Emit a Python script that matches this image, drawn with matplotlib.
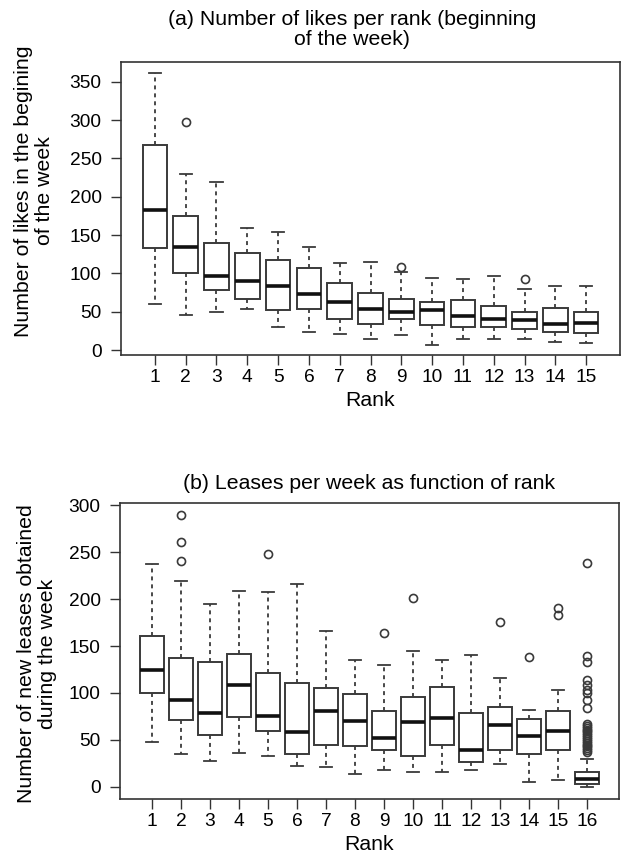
import matplotlib
matplotlib.use("Agg")
import matplotlib.pyplot as plt

plt.rcParams['font.family'] = ['Liberation Sans', 'DejaVu Sans']

# ---- Panel (a): likes per rank ----
likes_ranks = list(range(1, 16))
likes_whislo = [60, 46, 50, 53, 30, 23, 21, 14, 19, 6.5, 15, 15, 15, 10, 9.6]
likes_q1 = [133, 100, 78, 66.5, 52, 53.5, 41, 34, 40, 32, 30, 30, 27, 24, 22.6]
likes_med = [182, 134, 96, 90, 83.5, 73.5, 62, 53.5, 50, 52, 44, 41, 39, 34, 35]
likes_q3 = [267, 175, 139, 127, 117, 106.5, 88, 74, 66.5, 63, 65, 58, 50, 55, 49]
likes_whishi = [362, 229, 219, 159, 154, 134, 113.5, 115, 102, 94, 93, 96, 80, 84, 83]
likes_fliers = {2: [298], 9: [108], 13: [92]}

# ---- Panel (b): leases per week ----
lease_ranks = list(range(1, 17))
lease_whislo = [48, 35, 27, 35.5, 33, 22, 21, 14, 18, 16, 16, 18, 24, 5, 7, 0]
lease_q1 = [100.5, 71, 55, 74.5, 59, 34.5, 45, 43, 39, 33, 45, 26, 39, 35, 39, 3.5]
lease_med = [125, 93, 79, 108, 76, 58, 81, 70, 52.5, 69, 73, 39, 66, 54, 60, 8]
lease_q3 = [160.5, 137, 133, 141.5, 121, 111, 105, 99, 81, 96, 106, 79, 85, 72, 81, 16]
lease_whishi = [237, 219, 195, 209, 208, 216, 166, 135, 130, 145, 135, 141, 116, 82, 103, 30]
lease_fliers = {2: [290, 261, 241], 5: [248], 9: [164], 10: [201], 13: [176],
                14: [138], 15: [191, 183],
                16: [239, 139.5, 133, 113.6, 108, 103.7, 100, 92, 84.5,
                     67, 65, 63, 61, 59, 57, 55, 53, 51, 49, 47, 45, 43, 41, 39, 37]}

title_a = "(a) Number of likes per rank (beginning\nof the week)"
ylabel_a = "Number of likes in the begining\nof the week"
title_b = "(b) Leases per week as function of rank"
ylabel_b = "Number of new leases obtained\nduring the week"
xlabel = "Rank"
yticks_a = [0, 50, 100, 150, 200, 250, 300, 350]
yticks_b = [0, 50, 100, 150, 200, 250, 300]


def make_stats(ranks, lo, q1, med, q3, hi, fl):
    stats = []
    for i, r in enumerate(ranks):
        stats.append(dict(whislo=lo[i], q1=q1[i], med=med[i], q3=q3[i],
                          whishi=hi[i], fliers=fl.get(r, [])))
    return stats


edge = '#3a3a3a'
fig = plt.figure(figsize=(6.21, 8.6), dpi=100)
tfs = 13.8
lfs = 15.3


def draw(ax, ranks, stats, title, ylabel, yticks, ylim, ylab_xy, title_pad, title_x):
    ax.bxp(stats, positions=ranks, widths=0.8, capwidths=0.4, showfliers=True,
           patch_artist=True,
           boxprops=dict(facecolor='white', edgecolor=edge, linewidth=1.4),
           whiskerprops=dict(color=edge, linewidth=1.3, linestyle=(0, (2.2, 2.2))),
           capprops=dict(color=edge, linewidth=1.3),
           medianprops=dict(color='#111111', linewidth=2.6),
           flierprops=dict(marker='o', markersize=5.8, markerfacecolor='none',
                           markeredgecolor=edge, markeredgewidth=1.2))
    ax.set_xlim(-0.1, len(ranks) + 1.1)
    ax.set_ylim(*ylim)
    ax.set_xticks(ranks)
    ax.set_xticklabels([str(r) for r in ranks], fontsize=tfs)
    ax.set_yticks(yticks)
    ax.set_yticklabels([str(t) for t in yticks], fontsize=tfs)
    ax.tick_params(axis='both', direction='out', length=7, width=1, color='#333333')
    ax.tick_params(axis='y', pad=7)
    ax.tick_params(axis='x', pad=3)
    for s in ax.spines.values():
        s.set_linewidth(1.2)
        s.set_color('#333333')
    ax.set_title(title, fontsize=lfs, pad=title_pad, linespacing=1.1, x=title_x)
    ax.set_ylabel(ylabel, fontsize=lfs, linespacing=1.1, va='center')
    ax.yaxis.set_label_coords(*ylab_xy)
    ax.set_xlabel(xlabel, fontsize=lfs, labelpad=4)


ax1 = fig.add_axes([121 / 621, 1 - 355 / 860, (620 - 121) / 621, (355 - 62) / 860])
draw(ax1, likes_ranks,
     make_stats(likes_ranks, likes_whislo, likes_q1, likes_med, likes_q3, likes_whishi, likes_fliers),
     title_a, ylabel_a, yticks_a, (-6.5, 375.7), ((34 - 121) / 499, 0.56), 12,
     (352 - 121) / 499)

ax2 = fig.add_axes([120 / 621, 1 - 799 / 860, (619 - 120) / 621, (799 - 503) / 860])
draw(ax2, lease_ranks,
     make_stats(lease_ranks, lease_whislo, lease_q1, lease_med, lease_q3, lease_whishi, lease_fliers),
     title_b, ylabel_b, yticks_b, (-13, 302.5), ((37 - 120) / 499, 0.49), 10, 0.5)

fig.savefig("out.png", dpi=100, facecolor='white')
